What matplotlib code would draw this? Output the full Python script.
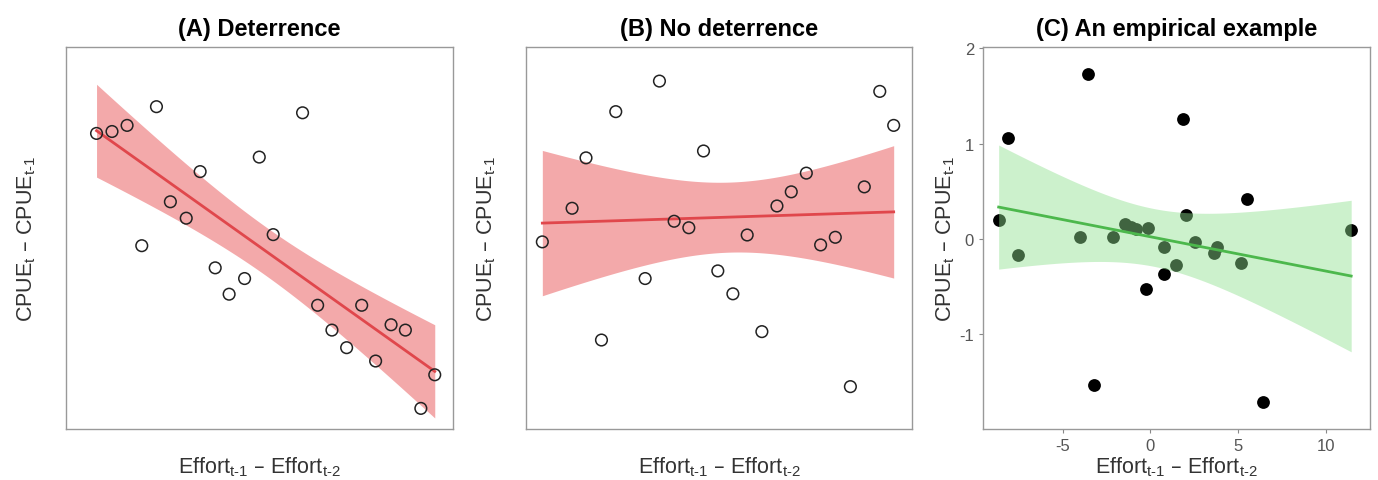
import numpy as np
import matplotlib.pyplot as plt

plt.rcParams['font.family'] = ['Liberation Sans', 'DejaVu Sans']
plt.rcParams['mathtext.default'] = 'regular'
plt.rcParams['axes.unicode_minus'] = False

# (A) simulated deterrence: arbitrary units, no ticks
a_x = [7.9, 11.9, 15.8, 23.4, 19.6, 27.0, 31.1, 34.7, 38.6, 42.2, 46.2, 50.0,
       53.6, 61.2, 65.1, 68.8, 72.6, 76.5, 80.1, 84.1, 87.8, 91.8, 95.4]
a_y = [77.4, 77.9, 79.5, 84.4, 48.0, 59.5, 55.2, 67.4, 42.2, 35.3, 39.4, 71.2,
       50.9, 82.8, 32.4, 25.9, 21.3, 32.4, 17.8, 27.3, 25.9, 5.4, 14.2]

# (B) simulated no deterrence
b_x = [4.3, 12.0, 15.6, 19.6, 23.3, 30.9, 34.6, 38.4, 42.2, 46.0, 49.7, 53.6,
       57.3, 61.1, 65.0, 68.7, 72.6, 76.3, 80.1, 84.0, 87.6, 91.6, 95.2]
b_y = [49.0, 57.8, 71.0, 23.3, 83.1, 39.4, 91.1, 54.4, 52.7, 72.8, 41.4, 35.4,
       50.8, 25.5, 58.4, 62.1, 67.0, 48.2, 50.2, 11.1, 63.4, 88.4, 79.5]

# (C) empirical example
c_x = [-3.56, -8.12, 1.84, 5.50, 11.45, -8.65, -7.55, -4.00, -2.12, -1.44, -1.08, -0.82,
       -0.13, 2.01, 0.78, 2.52, 3.79, 3.60, 1.48, 5.16, 0.78, -0.27, -3.19, 6.41]
c_y = [1.725, 1.063, 1.26, 0.415, 0.098, 0.20, -0.167, 0.024, 0.024, 0.153, 0.129, 0.105,
       0.118, 0.254, -0.087, -0.028, -0.08, -0.146, -0.27, -0.254, -0.369, -0.52, -1.526, -1.71]

titles = ['(A) Deterrence', '(B) No deterrence', '(C) An empirical example']
ylab = 'CPUE$_{t}$ \u2013 CPUE$_{t\u20101}$'
xlab = 'Effort$_{t\u20101}$ \u2013 Effort$_{t\u20102}$'

# 95% t quantiles for n-2 dof
T95 = {21: 2.080, 22: 2.074}


def lm_band(x, y, n=100):
    x = np.asarray(x); y = np.asarray(y)
    slope, icpt = np.polyfit(x, y, 1)
    res = y - (icpt + slope * x)
    s = np.sqrt(np.sum(res**2) / (len(x) - 2))
    xs = np.linspace(x.min(), x.max(), n)
    fit = icpt + slope * xs
    se = s * np.sqrt(1 / len(x) + (xs - x.mean())**2 / np.sum((x - x.mean())**2))
    t = T95[len(x) - 2]
    return xs, fit, fit - t * se, fit + t * se


fig = plt.figure(figsize=(13.78, 4.81), dpi=100)
lefts = [0.0479, 0.3815, 0.7134]
axes = [fig.add_axes([l, 0.106, 0.2805, 0.794]) for l in lefts]

for ax, (x, y), title in zip(axes[:2], [(a_x, a_y), (b_x, b_y)], titles[:2]):
    xs, fit, lo, hi = lm_band(x, y)
    ax.fill_between(xs, lo, hi, color='#f08c8e', alpha=0.75, lw=0, zorder=1)
    ax.plot(xs, fit, color='#e0474c', lw=2, zorder=2)
    ax.scatter(x, y, s=70, facecolors='none', edgecolors='#222222', linewidths=1.1, zorder=3)
    ax.set_xlim(0, 100)
    ax.set_ylim(0, 100)
    ax.set_xticks([])
    ax.set_yticks([])
    ax.set_xlabel(xlab, fontsize=15.5, color='#333333', labelpad=18)
    ax.set_ylabel(ylab, fontsize=15.5, color='#333333', labelpad=20)

ax = axes[2]
ax.scatter(c_x, c_y, s=85, color='black', lw=0, zorder=1)
xs, fit, lo, hi = lm_band(c_x, c_y)
ax.fill_between(xs, lo, hi, color='#8fe08f', alpha=0.45, lw=0, zorder=2)
ax.plot(xs, fit, color='#4cb84c', lw=2, zorder=3)
ax.set_xlim(-9.54, 12.5)
ax.set_ylim(-1.99, 2.01)
ax.set_xticks([-5, 0, 5, 10])
ax.set_yticks([-1, 0, 1, 2])
ax.tick_params(colors='#888888', labelcolor='#555555', labelsize=12, length=3)
ax.set_xlabel(xlab, fontsize=15.5, color='#333333', labelpad=1)
ax.set_ylabel(ylab, fontsize=15.5, color='#333333', labelpad=2)

for ax, title in zip(axes, titles):
    ax.set_title(title, fontsize=17, fontweight='bold', pad=9)
    for sp in ax.spines.values():
        sp.set_color('#999999')
        sp.set_linewidth(1.0)

fig.savefig('out.png', dpi=100)
